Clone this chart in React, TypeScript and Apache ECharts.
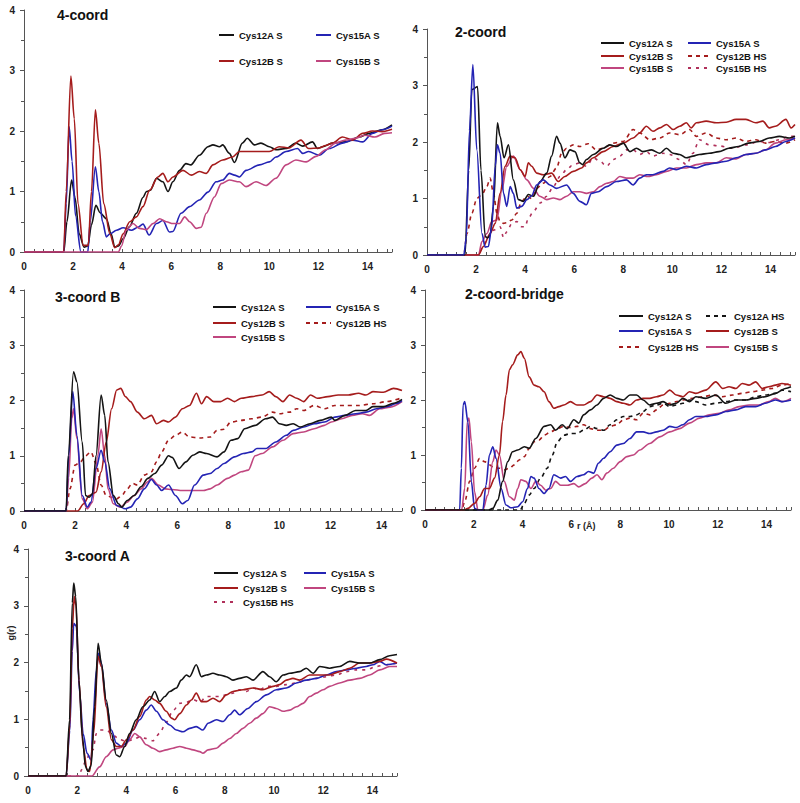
import React, { useEffect, useRef } from "react";
import * as echarts from "echarts";

// ---------- data: [r (Å), g(r)] ----------
// Panel 1: 4-coord
const p1_12A_S = [[0,0],[1.62,0],[1.75,0.5],[1.94,1.19],[2.08,0.9],[2.25,0.3],[2.45,0.08],[2.6,0.1],[2.75,0.45],[2.93,0.77],[3.1,0.65],[3.36,0.55],[3.55,0.3],[3.7,0.08],[3.85,0.1],[4.04,0.22],[4.3,0.42],[4.58,0.64],[4.85,0.9],[4.99,1.0],[5.15,1.02],[5.4,1.22],[5.66,1.16],[5.87,1.0],[6.07,1.16],[6.34,1.35],[6.6,1.46],[6.8,1.44],[7.15,1.6],[7.5,1.74],[7.7,1.77],[7.97,1.74],[8.1,1.77],[8.37,1.63],[8.58,1.48],[8.9,1.8],[9.1,1.88],[9.39,1.77],[9.66,1.8],[10.0,1.74],[10.27,1.69],[10.68,1.71],[11.08,1.8],[11.36,1.75],[11.76,1.82],[11.96,1.71],[12.17,1.74],[12.57,1.8],[13.1,1.82],[13.66,1.9],[14.07,1.96],[14.6,2.02],[15,2.1]];
const p1_15A_S = [[0,0],[1.62,0],[1.72,0.8],[1.84,2.07],[1.96,1.5],[2.1,0.6],[2.32,0],[2.6,0],[2.7,0.5],[2.91,1.41],[3.05,1.0],[3.2,0.5],[3.36,0.25],[3.5,0.3],[3.77,0.36],[4.04,0.4],[4.38,0.36],[4.65,0.41],[4.85,0.46],[5.1,0.28],[5.4,0.47],[5.66,0.52],[5.93,0.33],[6.07,0.34],[6.4,0.64],[6.75,0.75],[7.15,0.86],[7.5,0.99],[7.83,1.16],[8.1,1.19],[8.37,1.3],[8.58,1.27],[8.78,1.24],[9.05,1.35],[9.6,1.44],[10,1.49],[10.27,1.57],[10.68,1.66],[11.15,1.71],[11.36,1.63],[11.6,1.66],[12.03,1.6],[12.44,1.71],[12.98,1.8],[13.4,1.85],[13.8,1.82],[14.2,1.96],[14.6,2.02],[15,2.08]];
const p1_12B_S = [[0,0],[1.62,0],[1.72,1.0],[1.91,2.91],[2.05,2.2],[2.2,0.8],[2.41,0.11],[2.62,0.11],[2.75,1.0],[2.91,2.35],[3.05,1.8],[3.25,0.8],[3.5,0.3],[3.7,0.07],[3.85,0.12],[4.04,0.3],[4.31,0.5],[4.58,0.58],[4.85,0.75],[5.12,1.02],[5.46,1.24],[5.66,1.3],[5.87,1.16],[6.07,1.24],[6.48,1.35],[6.82,1.27],[7.15,1.33],[7.43,1.3],[7.7,1.44],[8.1,1.52],[8.5,1.57],[8.78,1.66],[9.46,1.66],[10,1.66],[10.4,1.74],[10.8,1.72],[11.29,1.85],[11.6,1.71],[12.03,1.72],[12.3,1.76],[12.57,1.8],[12.98,1.9],[13.4,1.85],[13.8,1.96],[14.2,2.0],[14.6,1.99],[15,2.03]];
const p1_15B_S = [[0,0],[3.85,0],[3.97,0.1],[4.17,0.36],[4.44,0.47],[4.71,0.39],[4.99,0.37],[5.26,0.47],[5.53,0.55],[5.8,0.5],[6.07,0.47],[6.34,0.47],[6.55,0.58],[6.75,0.5],[7.02,0.39],[7.22,0.41],[7.43,0.64],[7.76,0.91],[8.04,1.13],[8.37,1.19],[8.78,1.16],[9.05,1.08],[9.46,1.16],[9.86,1.1],[10.27,1.22],[10.68,1.44],[11.08,1.52],[11.5,1.49],[11.9,1.58],[12.3,1.69],[12.7,1.8],[13.1,1.85],[13.5,1.88],[13.9,1.93],[14.3,1.9],[14.7,1.96],[15,1.97]];

// Panel 2: 2-coord
const p2_12A_S = [[0,0],[1.55,0],[1.7,1.5],[1.83,2.93],[2.06,2.98],[2.2,1.5],[2.37,0.33],[2.47,0.3],[2.57,0.35],[2.71,0.86],[2.87,2.34],[2.98,2.1],[3.14,1.72],[3.32,1.95],[3.52,1.33],[3.73,0.98],[3.93,0.95],[4.13,1.07],[4.34,1.04],[4.61,1.3],[4.88,1.45],[5.08,1.75],[5.28,2.1],[5.42,1.98],[5.62,1.72],[5.83,1.86],[6.03,1.83],[6.23,1.63],[6.34,1.6],[6.5,1.69],[6.78,1.78],[7.18,1.89],[7.45,1.95],[7.72,1.92],[8.0,1.98],[8.27,1.83],[8.54,1.89],[8.8,1.83],[9.15,1.86],[9.49,1.8],[9.76,1.89],[10.03,1.8],[10.3,1.78],[10.57,1.72],[10.84,1.75],[11.1,1.78],[11.5,1.8],[11.9,1.83],[12.3,1.89],[12.7,1.92],[13.1,1.98],[13.55,2.01],[13.95,2.07],[14.36,2.1],[14.77,2.07],[15,2.1]];
const p2_15A_S = [[0,0],[1.5,0],[1.6,0.3],[1.73,2.2],[1.87,3.37],[2.03,1.86],[2.24,0.38],[2.37,0.14],[2.5,0.15],[2.64,0.5],[2.78,1.57],[2.87,1.95],[2.98,1.8],[3.12,1.09],[3.25,0.86],[3.39,1.21],[3.52,1.09],[3.66,0.83],[3.86,0.86],[4.07,0.98],[4.27,1.05],[4.47,1.24],[4.74,1.33],[5.01,1.24],[5.28,1.18],[5.69,1.24],[5.96,1.09],[6.23,0.95],[6.5,0.89],[6.7,1.09],[6.98,1.12],[7.32,1.21],[7.72,1.3],[8.13,1.33],[8.4,1.24],[8.67,1.36],[8.94,1.42],[9.2,1.42],[9.62,1.48],[9.89,1.54],[10.16,1.51],[10.57,1.57],[10.98,1.54],[11.38,1.6],[11.79,1.63],[12.2,1.66],[12.6,1.72],[13.0,1.78],[13.4,1.8],[13.8,1.86],[14.2,1.92],[14.63,2.01],[15,2.07]];
const p2_12B_S = [[0,0],[2.1,0],[2.3,0.15],[2.57,0.38],[2.78,0.56],[2.98,1.09],[3.18,1.57],[3.39,1.75],[3.59,1.72],[3.8,1.51],[4.0,1.39],[4.13,1.63],[4.27,1.57],[4.47,1.45],[4.74,1.42],[5.08,1.45],[5.35,1.3],[5.62,1.39],[5.96,1.48],[6.3,1.54],[6.5,1.63],[6.78,1.72],[7.18,1.83],[7.59,1.92],[8.0,1.98],[8.4,2.07],[8.67,2.16],[8.94,2.28],[9.21,2.19],[9.49,2.25],[9.76,2.31],[10.03,2.22],[10.3,2.28],[10.57,2.34],[10.77,2.25],[10.98,2.34],[11.38,2.37],[11.79,2.34],[12.2,2.35],[12.6,2.4],[13.0,2.4],[13.4,2.34],[13.69,2.37],[13.95,2.25],[14.2,2.28],[14.63,2.4],[14.84,2.25],[15,2.31]];
const p2_15B_S = [[0,0],[2.1,0],[2.24,0.24],[2.44,0.38],[2.64,0.59],[2.85,0.62],[3.05,1.15],[3.25,1.57],[3.52,1.75],[3.8,1.51],[4.07,1.33],[4.34,1.18],[4.6,1.04],[4.88,0.98],[5.15,1.01],[5.42,0.98],[5.69,1.04],[5.96,1.12],[6.23,1.12],[6.5,1.09],[6.78,1.12],[7.05,1.21],[7.32,1.27],[7.59,1.3],[7.86,1.39],[8.13,1.36],[8.4,1.36],[8.67,1.42],[9.0,1.39],[9.35,1.42],[9.76,1.48],[10.16,1.54],[10.57,1.54],[10.98,1.6],[11.38,1.63],[11.79,1.63],[12.2,1.72],[12.6,1.7],[13.0,1.78],[13.4,1.8],[13.8,1.86],[14.2,1.98],[14.63,2.04],[15,2.07]];
const p2_12B_HS = [[0,0],[1.5,0],[1.63,0.38],[1.83,0.74],[2.03,1.0],[2.24,1.07],[2.44,1.21],[2.57,1.36],[2.71,1.09],[2.85,0.74],[2.98,0.59],[3.12,0.56],[3.25,0.57],[3.46,0.62],[3.66,0.74],[3.86,0.95],[4.07,1.04],[4.27,1.0],[4.47,1.18],[4.74,1.27],[5.01,1.39],[5.28,1.54],[5.49,1.8],[5.69,1.89],[5.96,1.95],[6.23,1.92],[6.57,1.97],[6.91,1.86],[7.18,1.89],[7.59,1.98],[8.0,2.01],[8.4,2.22],[8.67,2.16],[9.08,2.04],[9.49,2.07],[9.89,2.16],[10.3,2.13],[10.7,2.22],[10.98,2.1],[11.38,2.16],[11.79,2.07],[12.2,2.04],[12.6,2.07],[13.0,2.01],[13.4,2.04],[13.8,1.98],[14.2,2.01],[14.63,1.98],[15,2.04]];
const p2_15B_HS = [[0,0],[2.1,0],[2.25,0.12],[2.44,0.27],[2.71,0.44],[2.98,0.5],[3.12,0.31],[3.25,0.41],[3.46,0.56],[3.66,0.59],[3.86,0.5],[4.0,0.5],[4.13,0.65],[4.34,0.77],[4.61,0.92],[4.88,1.04],[5.15,1.21],[5.42,1.39],[5.69,1.51],[5.96,1.6],[6.23,1.63],[6.5,1.57],[6.78,1.72],[7.05,1.66],[7.32,1.57],[7.59,1.69],[7.86,1.75],[8.13,1.86],[8.4,1.86],[8.67,1.78],[8.94,1.83],[9.2,1.75],[9.62,1.8],[9.89,1.78],[10.3,1.69],[10.57,1.6],[10.84,1.8],[11.1,2.04],[11.5,1.95],[11.9,1.93],[12.46,1.89],[13.0,1.95],[13.55,2.01],[13.95,1.99],[14.36,2.04],[14.77,2.1],[15,2.1]];

// Panel 3: 3-coord B
const p3_12A_S = [[0,0],[1.65,0],[1.73,1.0],[1.94,2.52],[2.07,2.34],[2.28,1.25],[2.41,0.28],[2.55,0.25],[2.68,0.31],[2.82,1.0],[3.02,2.1],[3.16,1.73],[3.29,0.89],[3.5,0.28],[3.7,0.13],[3.83,0.07],[4.04,0.19],[4.31,0.28],[4.58,0.44],[4.85,0.59],[5.12,0.68],[5.39,0.83],[5.66,1.0],[5.8,0.97],[6.07,0.77],[6.34,0.89],[6.61,1.01],[6.88,1.07],[7.15,1.04],[7.56,0.98],[7.83,1.07],[8.1,1.28],[8.37,1.31],[8.64,1.49],[9.05,1.55],[9.46,1.67],[9.73,1.7],[10.0,1.58],[10.27,1.55],[10.54,1.58],[10.81,1.52],[11.2,1.58],[11.6,1.64],[12.03,1.7],[12.17,1.64],[12.57,1.73],[12.98,1.82],[13.39,1.82],[13.66,1.89],[14.07,1.89],[14.47,1.95],[14.8,2.02]];
const p3_15A_S = [[0,0],[1.65,0],[1.75,1.0],[1.91,2.16],[2.07,1.37],[2.28,0.28],[2.48,0.07],[2.62,0.16],[2.82,0.77],[3.02,1.1],[3.16,0.89],[3.36,0.4],[3.63,0.1],[3.97,0.04],[4.17,0.07],[4.44,0.22],[4.71,0.4],[4.99,0.57],[5.19,0.47],[5.39,0.37],[5.66,0.47],[5.93,0.28],[6.2,0.13],[6.41,0.19],[6.68,0.47],[7.02,0.65],[7.29,0.68],[7.56,0.77],[7.83,0.86],[8.24,0.98],[8.58,1.04],[8.92,1.07],[9.12,1.13],[9.46,1.13],[9.86,1.25],[10.27,1.37],[10.54,1.46],[10.95,1.52],[11.36,1.58],[11.76,1.61],[12.17,1.7],[12.57,1.73],[12.98,1.76],[13.39,1.79],[13.8,1.85],[14.2,1.89],[14.6,1.95],[14.8,2.0]];
const p3_12B_S = [[0,0],[2.1,0],[2.34,0.13],[2.55,0.28],[2.82,0.34],[3.02,0.71],[3.22,1.25],[3.43,1.85],[3.63,2.19],[3.79,2.22],[3.97,2.07],[4.17,1.98],[4.44,1.79],[4.71,1.67],[4.99,1.73],[5.19,1.58],[5.46,1.64],[5.66,1.61],[5.93,1.7],[6.2,1.85],[6.48,1.91],[6.75,2.13],[6.95,1.94],[7.15,2.07],[7.43,1.98],[7.7,1.98],[7.97,2.04],[8.24,1.98],[8.5,2.04],[8.92,2.07],[9.32,2.1],[9.6,2.16],[9.86,2.07],[10.14,1.98],[10.4,2.1],[10.68,2.04],[10.95,1.98],[11.22,2.1],[11.49,2.04],[11.9,2.07],[12.3,2.1],[12.7,2.1],[13.1,2.13],[13.39,2.1],[13.66,2.16],[14.07,2.15],[14.47,2.22],[14.8,2.18]];
const p3_12B_HS = [[0,0],[1.65,0],[1.8,0.4],[2.0,0.83],[2.21,0.89],[2.41,1.0],[2.62,1.07],[2.82,0.86],[3.02,0.47],[3.22,0.28],[3.43,0.25],[3.63,0.22],[3.83,0.28],[4.04,0.4],[4.24,0.5],[4.44,0.47],[4.71,0.65],[4.99,0.71],[5.19,0.89],[5.39,1.07],[5.66,1.28],[5.93,1.37],[6.2,1.43],[6.48,1.34],[6.88,1.32],[7.29,1.34],[7.56,1.46],[7.83,1.48],[8.1,1.61],[8.5,1.64],[8.92,1.67],[9.32,1.7],[9.73,1.79],[10.0,1.76],[10.4,1.79],[10.68,1.85],[10.95,1.82],[11.36,1.91],[11.76,1.85],[12.17,1.91],[12.57,1.91],[13.1,1.91],[13.66,1.94],[14.2,1.98],[14.8,2.05]];
const p3_15B_S = [[0,0],[1.65,0],[1.75,0.6],[1.87,1.67],[1.94,1.85],[2.07,1.31],[2.28,0.22],[2.48,0.04],[2.68,0.16],[2.89,1.0],[3.02,1.49],[3.16,1.0],[3.29,0.4],[3.5,0.13],[3.77,0.07],[4.04,0.16],[4.31,0.28],[4.58,0.4],[4.85,0.53],[4.99,0.59],[5.26,0.47],[5.53,0.4],[5.8,0.39],[6.2,0.37],[6.61,0.37],[7.02,0.37],[7.29,0.4],[7.56,0.47],[7.97,0.59],[8.24,0.65],[8.5,0.71],[8.78,0.74],[9.05,1.0],[9.32,1.04],[9.73,1.16],[10.14,1.28],[10.54,1.4],[10.95,1.43],[11.36,1.49],[11.76,1.55],[12.03,1.61],[12.44,1.67],[12.85,1.73],[13.25,1.76],[13.52,1.73],[13.93,1.85],[14.34,1.88],[14.8,1.98]];

// Panel 4: 2-coord-bridge
const p4_12A_S = [[0,0],[2.6,0],[2.78,0.03],[2.98,0.18],[3.18,0.52],[3.39,0.88],[3.59,1.06],[3.8,1.09],[4.07,1.15],[4.27,1.12],[4.54,1.3],[4.88,1.52],[5.15,1.55],[5.35,1.45],[5.62,1.55],[5.83,1.48],[6.1,1.64],[6.3,1.58],[6.5,1.73],[6.78,1.82],[7.05,1.91],[7.32,2.03],[7.59,2.09],[7.86,2.03],[8.13,2.0],[8.4,2.09],[8.67,2.09],[8.94,2.0],[9.21,1.91],[9.49,1.94],[9.76,1.97],[10.03,1.91],[10.3,1.94],[10.57,2.03],[10.84,1.97],[11.1,2.06],[11.5,2.03],[11.92,2.09],[12.33,1.94],[12.74,2.0],[13.14,2.0],[13.55,2.03],[13.95,2.06],[14.36,2.12],[14.77,2.21],[15,2.24]];
const p4_12A_HS = [[0,0],[3.9,0],[4.07,0.12],[4.27,0.27],[4.47,0.39],[4.74,0.58],[5.01,0.76],[5.22,1.0],[5.42,1.24],[5.69,1.36],[5.96,1.39],[6.23,1.39],[6.5,1.45],[6.78,1.52],[7.05,1.48],[7.32,1.45],[7.59,1.55],[7.86,1.64],[8.13,1.7],[8.4,1.7],[8.67,1.73],[8.94,1.79],[9.21,1.88],[9.49,1.91],[9.76,1.94],[10.03,1.88],[10.3,1.91],[10.57,1.94],[10.84,2.0],[11.1,1.97],[11.5,1.91],[11.92,1.94],[12.33,1.97],[12.74,2.0],[13.14,2.0],[13.55,2.06],[13.95,2.09],[14.36,2.12],[14.63,2.18],[15,2.15]];
const p4_15A_S = [[0,0],[1.42,0],[1.49,0.76],[1.56,1.91],[1.63,1.97],[1.76,1.6],[1.9,0.52],[2.03,0.03],[2.17,0],[2.37,0],[2.5,0.45],[2.64,1.0],[2.78,1.15],[2.91,0.94],[3.12,0.39],[3.32,0.09],[3.52,0.04],[3.8,0.06],[4.0,0.15],[4.2,0.39],[4.34,0.61],[4.47,0.58],[4.67,0.39],[4.88,0.3],[5.08,0.39],[5.28,0.64],[5.56,0.58],[5.76,0.61],[5.96,0.52],[6.23,0.61],[6.5,0.64],[6.7,0.7],[6.91,0.67],[7.11,0.85],[7.32,0.94],[7.59,1.06],[7.86,1.18],[8.13,1.21],[8.4,1.3],[8.67,1.42],[8.94,1.42],[9.21,1.39],[9.49,1.42],[9.76,1.45],[10.03,1.52],[10.3,1.5],[10.57,1.55],[10.84,1.64],[11.1,1.7],[11.5,1.7],[11.92,1.73],[12.33,1.79],[12.74,1.82],[13.14,1.88],[13.55,1.88],[13.95,1.94],[14.36,2.0],[14.63,1.97],[15,2.0]];
const p4_12B_S = [[0,0],[1.6,0],[1.76,0.03],[2.03,0.12],[2.24,0.24],[2.44,0.39],[2.64,0.39],[2.85,0.58],[3.05,1.0],[3.18,1.61],[3.32,2.09],[3.46,2.55],[3.59,2.64],[3.8,2.82],[3.93,2.88],[4.07,2.76],[4.27,2.42],[4.47,2.27],[4.67,2.24],[4.88,2.15],[5.08,1.97],[5.28,1.85],[5.49,1.88],[5.69,1.91],[5.96,1.97],[6.23,1.91],[6.5,1.91],[6.78,1.97],[7.05,2.09],[7.32,2.06],[7.59,2.03],[7.86,1.97],[8.13,1.94],[8.4,1.91],[8.67,2.0],[8.94,2.03],[9.21,2.03],[9.49,2.06],[9.76,2.09],[10.03,2.18],[10.3,2.09],[10.57,2.06],[10.84,2.15],[11.1,2.12],[11.5,2.18],[11.92,2.33],[12.2,2.21],[12.46,2.24],[12.74,2.21],[13.0,2.3],[13.28,2.27],[13.55,2.33],[13.82,2.21],[14.09,2.24],[14.36,2.27],[14.63,2.3],[15,2.27]];
const p4_12B_HS = [[0,0],[1.5,0],[1.63,0.15],[1.83,0.52],[2.03,0.76],[2.24,0.94],[2.44,0.88],[2.64,0.82],[2.85,0.76],[3.05,0.76],[3.25,0.73],[3.46,0.76],[3.66,0.82],[3.86,0.91],[4.07,0.97],[4.27,1.12],[4.47,1.24],[4.67,1.27],[4.88,1.36],[5.15,1.42],[5.42,1.48],[5.69,1.52],[5.96,1.5],[6.23,1.52],[6.5,1.55],[6.78,1.48],[7.05,1.45],[7.32,1.45],[7.59,1.52],[7.86,1.55],[8.13,1.64],[8.4,1.67],[8.67,1.64],[8.94,1.76],[9.21,1.73],[9.49,1.82],[9.76,1.91],[10.03,1.94],[10.3,1.97],[10.57,2.0],[10.98,2.03],[11.38,2.06],[11.79,2.09],[12.2,2.06],[12.6,2.09],[13.0,2.12],[13.4,2.15],[13.82,2.18],[14.23,2.21],[14.63,2.27],[15,2.3]];
const p4_15B_S = [[0,0],[1.5,0],[1.63,0.4],[1.73,1.6],[1.8,1.67],[1.9,1.24],[2.03,0.33],[2.17,0],[2.37,0],[2.57,0.27],[2.78,0.88],[2.91,1.09],[3.05,1.0],[3.25,0.52],[3.46,0.24],[3.66,0.18],[3.8,0.39],[3.93,0.55],[4.13,0.52],[4.34,0.39],[4.54,0.52],[4.74,0.45],[4.95,0.36],[5.15,0.39],[5.35,0.52],[5.56,0.45],[5.83,0.45],[6.1,0.48],[6.3,0.42],[6.57,0.48],[6.84,0.58],[7.05,0.64],[7.25,0.55],[7.45,0.67],[7.72,0.76],[8.0,0.88],[8.27,0.97],[8.54,1.0],[8.8,1.09],[9.21,1.21],[9.62,1.33],[10.03,1.42],[10.43,1.48],[10.84,1.58],[11.25,1.67],[11.65,1.73],[12.06,1.76],[12.47,1.82],[12.87,1.88],[13.28,1.91],[13.69,1.91],[14.09,1.97],[14.36,2.03],[14.63,1.97],[15,2.03]];

// Panel 5: 3-coord A
const p5_12A_S = [[0,0],[1.55,0],[1.69,0.99],[1.8,3.05],[1.86,3.4],[1.94,3.16],[2.07,1.69],[2.21,0.69],[2.34,0.16],[2.44,0.08],[2.57,0.19],[2.71,1.22],[2.85,2.34],[2.98,1.99],[3.18,1.34],[3.39,0.75],[3.59,0.37],[3.73,0.34],[3.93,0.52],[4.13,0.75],[4.4,0.99],[4.67,1.22],[4.95,1.34],[5.15,1.49],[5.35,1.31],[5.56,1.4],[5.76,1.49],[6.03,1.55],[6.23,1.69],[6.44,1.78],[6.57,1.75],[6.84,1.96],[7.05,1.75],[7.25,1.78],[7.52,1.81],[7.79,1.78],[8.06,1.75],[8.33,1.69],[8.6,1.72],[8.88,1.75],[9.15,1.69],[9.55,1.84],[9.82,1.75],[10.09,1.66],[10.37,1.78],[10.64,1.81],[11.04,1.84],[11.31,1.9],[11.59,1.81],[11.86,1.93],[12.26,1.9],[12.67,1.93],[13.08,2.02],[13.48,1.99],[13.89,1.99],[14.3,2.05],[14.7,2.12],[15,2.14]];
const p5_15A_S = [[0,0],[1.55,0],[1.7,0.8],[1.8,2.2],[1.86,2.69],[1.96,2.64],[2.1,1.46],[2.24,0.75],[2.4,0.4],[2.57,0.28],[2.64,0.99],[2.78,1.87],[2.87,2.16],[2.98,1.99],[3.18,1.28],[3.39,0.81],[3.59,0.58],[3.79,0.52],[4.0,0.58],[4.27,0.81],[4.54,0.99],[4.81,1.16],[5.01,1.25],[5.22,1.14],[5.49,0.99],[5.76,0.9],[6.03,0.81],[6.3,0.78],[6.57,0.84],[6.84,0.87],[7.11,0.81],[7.32,0.93],[7.66,0.99],[7.93,0.96],[8.2,1.08],[8.4,1.16],[8.6,1.08],[8.94,1.19],[9.28,1.31],[9.69,1.43],[10.09,1.52],[10.5,1.55],[10.91,1.64],[11.31,1.69],[11.72,1.72],[12.13,1.78],[12.53,1.84],[12.94,1.87],[13.35,1.9],[13.75,1.93],[14.02,1.96],[14.3,2.02],[14.57,1.96],[15,1.99]];
const p5_12B_S = [[0,0],[1.55,0],[1.7,0.9],[1.8,2.6],[1.88,3.16],[1.95,3.0],[2.07,1.69],[2.24,0.52],[2.4,0.11],[2.51,0.08],[2.67,0.75],[2.85,2.11],[2.98,1.93],[3.18,1.22],[3.39,0.64],[3.59,0.52],[3.79,0.52],[4.0,0.64],[4.27,0.81],[4.54,1.05],[4.81,1.34],[4.95,1.4],[5.15,1.34],[5.35,1.28],[5.62,1.14],[5.83,1.02],[5.96,0.99],[6.17,1.1],[6.44,1.25],[6.64,1.34],[6.84,1.46],[7.05,1.31],[7.25,1.31],[7.52,1.37],[7.79,1.31],[8.06,1.43],[8.33,1.49],[8.74,1.52],[9.15,1.55],[9.55,1.52],[9.96,1.58],[10.23,1.61],[10.5,1.69],[10.77,1.72],[11.04,1.69],[11.45,1.78],[11.86,1.78],[12.26,1.78],[12.67,1.84],[13.08,1.9],[13.48,1.99],[13.89,1.99],[14.3,2.02],[14.57,2.06],[15,1.99]];
const p5_15B_S = [[0,0],[2.6,0],[2.91,0.16],[3.18,0.34],[3.46,0.46],[3.66,0.49],[3.93,0.52],[4.13,0.64],[4.34,0.75],[4.54,0.69],[4.81,0.55],[5.08,0.49],[5.35,0.43],[5.62,0.46],[5.89,0.49],[6.17,0.52],[6.44,0.49],[6.71,0.46],[6.98,0.43],[7.11,0.4],[7.32,0.46],[7.66,0.49],[7.93,0.58],[8.2,0.66],[8.47,0.75],[8.74,0.84],[9.01,0.93],[9.28,1.02],[9.55,1.1],[9.82,1.22],[10.09,1.19],[10.37,1.14],[10.64,1.16],[10.91,1.22],[11.18,1.28],[11.45,1.4],[11.72,1.46],[11.99,1.52],[12.26,1.58],[12.67,1.64],[13.08,1.69],[13.48,1.72],[13.89,1.78],[14.3,1.87],[14.7,1.93],[15,1.93]];
const p5_15B_HS = [[0,0],[2.1,0],[2.17,0.11],[2.37,0.28],[2.51,0.4],[2.64,0.46],[2.78,0.75],[2.91,0.81],[3.18,0.81],[3.46,0.72],[3.73,0.64],[4.0,0.61],[4.27,0.64],[4.54,0.69],[4.81,0.66],[5.08,0.62],[5.35,0.75],[5.62,0.95],[5.89,1.15],[6.17,1.28],[6.44,1.3],[6.71,1.35],[6.98,1.3],[7.25,1.4],[7.52,1.4],[7.79,1.4],[8.06,1.43],[8.33,1.46],[8.6,1.52],[8.88,1.49],[9.15,1.55],[9.42,1.52],[9.69,1.58],[10.09,1.58],[10.5,1.61],[10.91,1.64],[11.31,1.69],[11.72,1.72],[12.13,1.75],[12.53,1.78],[12.94,1.84],[13.35,1.87],[13.75,1.87],[14.16,1.93],[14.57,1.96],[15,1.99]];

const xTicks = [0, 2, 4, 6, 8, 10, 12, 14];
const yTicks = [0, 1, 2, 3, 4];
const panelTitles = ["4-coord", "2-coord", "3-coord B", "2-coord-bridge", "3-coord A"];

// ---------- styles ----------
const FONT = "'Liberation Sans', Arial, sans-serif";
const COLORS: Record<string, string> = {
  "Cys12A S": "#141414",
  "Cys12A HS": "#141414",
  "Cys15A S": "#2424b4",
  "Cys12B S": "#a51c1c",
  "Cys12B HS": "#a51c1c",
  "Cys15B S": "#c0467f",
  "Cys15B HS": "#b0305a",
};
const DASH: Record<string, any> = {
  "Cys12A HS": [4, 4],
  "Cys12B HS": [4, 4],
  "Cys15B HS": [3, 5],
};

// grid layout for the five panels
const grids = [
  { left: 24, top: 10, width: 368, height: 242, xmax: 15 },
  { left: 427, top: 29, width: 368, height: 226, xmax: 15 },
  { left: 24, top: 290, width: 378, height: 221, xmax: 14.8 },
  { left: 425, top: 290, width: 366, height: 220, xmax: 15 },
  { left: 28, top: 549, width: 369, height: 227, xmax: 15 },
];

const panelSeries: [string, number[][]][][] = [
  [["Cys12A S", p1_12A_S], ["Cys15A S", p1_15A_S], ["Cys12B S", p1_12B_S], ["Cys15B S", p1_15B_S]],
  [["Cys15B HS", p2_15B_HS], ["Cys12B HS", p2_12B_HS], ["Cys15B S", p2_15B_S], ["Cys12B S", p2_12B_S], ["Cys12A S", p2_12A_S], ["Cys15A S", p2_15A_S]],
  [["Cys12B HS", p3_12B_HS], ["Cys15B S", p3_15B_S], ["Cys12B S", p3_12B_S], ["Cys15A S", p3_15A_S], ["Cys12A S", p3_12A_S]],
  [["Cys12B HS", p4_12B_HS], ["Cys12A HS", p4_12A_HS], ["Cys15B S", p4_15B_S], ["Cys15A S", p4_15A_S], ["Cys12B S", p4_12B_S], ["Cys12A S", p4_12A_S]],
  [["Cys15B HS", p5_15B_HS], ["Cys15B S", p5_15B_S], ["Cys15A S", p5_15A_S], ["Cys12B S", p5_12B_S], ["Cys12A S", p5_12A_S]],
];

// legend entries: [name, left, top, iconWidth]
const legendItems: [string, number, number, number][] = [
  ["Cys12A S", 218, 30, 15], ["Cys15A S", 315, 30, 15], ["Cys12B S", 218, 56, 15], ["Cys15B S", 315, 56, 15],
  ["Cys12A S", 600, 38, 23], ["Cys15A S", 687, 38, 23], ["Cys12B S", 600, 51, 23], ["Cys12B HS", 687, 51, 23], ["Cys15B S", 600, 63, 23], ["Cys15B HS", 687, 63, 23],
  ["Cys12A S", 212, 302, 23], ["Cys15A S", 305, 302, 25], ["Cys12B S", 212, 318, 23], ["Cys12B HS", 305, 318, 25], ["Cys15B S", 212, 332, 23],
  ["Cys12A S", 618, 311, 24], ["Cys12A HS", 705, 311, 23], ["Cys15A S", 618, 326, 24], ["Cys12B S", 705, 326, 23], ["Cys12B HS", 618, 342, 24], ["Cys15B S", 705, 342, 23],
  ["Cys12A S", 213, 568, 24], ["Cys15A S", 303, 568, 22], ["Cys12B S", 213, 583, 24], ["Cys15B S", 303, 583, 22], ["Cys15B HS", 213, 597, 24],
];

const titlePos = [
  { left: 57, top: 8 },
  { left: 455, top: 25 },
  { left: 55, top: 290 },
  { left: 465, top: 287 },
  { left: 65, top: 549 },
];

function buildOption() {
  const labelStyle = { color: "#222", fontFamily: FONT, fontWeight: "bold" as const, fontSize: 10 };
  const axisLineStyle = { color: "#555", width: 1 };

  const xAxis = grids.map((g, i) => ({
    type: "value",
    gridIndex: i,
    min: 0,
    max: g.xmax,
    interval: 2,
    axisLine: { show: true, onZero: false, lineStyle: axisLineStyle },
    axisTick: { show: true, inside: true, length: 3, lineStyle: axisLineStyle },
    minorTick: { show: true, splitNumber: 5, length: 3, lineStyle: axisLineStyle },
    splitLine: { show: false },
    axisLabel: {
      ...labelStyle,
      margin: 9,
      showMaxLabel: false,
      formatter: (v: number) => (xTicks.includes(v) ? String(v) : ""),
    },
  }));

  const yAxis = grids.map((g, i) => ({
    type: "value",
    gridIndex: i,
    min: 0,
    max: 4,
    interval: 1,
    axisLine: { show: true, lineStyle: axisLineStyle },
    axisTick: { show: true, length: 4, lineStyle: axisLineStyle },
    minorTick: { show: true, splitNumber: 2, length: 3, lineStyle: axisLineStyle },
    splitLine: { show: false },
    axisLabel: {
      ...labelStyle,
      margin: 9,
      formatter: (v: number) => (yTicks.includes(v) ? String(v) : ""),
    },
  }));

  const series: any[] = [];
  panelSeries.forEach((list, gi) => {
    list.forEach(([name, data]) => {
      series.push({
        type: "line",
        name,
        xAxisIndex: gi,
        yAxisIndex: gi,
        data,
        symbol: "none",
        smooth: 0.3,
        smoothMonotone: "x",
        lineStyle: { color: COLORS[name], width: 1.6, type: DASH[name] || "solid" },
        itemStyle: { color: COLORS[name] },
        z: 2,
      });
    });
  });

  const legend = legendItems.map(([name, left, top, w]) => ({
    data: [name],
    left,
    top,
    padding: 0,
    itemWidth: w,
    itemHeight: 10,
    itemGap: 0,
    selectedMode: false,
    itemStyle: { opacity: 0, borderWidth: 0 },
    textStyle: { color: "#111", fontFamily: FONT, fontWeight: "bold", fontSize: 9.5 },
  }));

  const title = panelTitles.map((t, i) => ({
    text: t,
    left: titlePos[i].left,
    top: titlePos[i].top,
    padding: 0,
    textStyle: { color: "#111", fontFamily: FONT, fontWeight: "bold", fontSize: 14 },
  }));

  return {
    animation: false,
    backgroundColor: "#ffffff",
    title,
    legend,
    grid: grids.map((g) => ({ left: g.left, top: g.top, width: g.width, height: g.height, containLabel: false })),
    xAxis,
    yAxis,
    series,
    graphic: [
      {
        type: "text",
        left: 577,
        top: 521,
        style: { text: "r (Å)", fill: "#222", font: `bold 9px ${FONT}` },
      },
      {
        type: "text",
        x: 11,
        y: 633,
        rotation: Math.PI / 2,
        style: { text: "g(r)", fill: "#222", font: `bold 9px ${FONT}`, align: "center", verticalAlign: "middle" },
      },
    ],
  };
}

export default function App() {
  const ref = useRef<HTMLDivElement>(null);
  useEffect(() => {
    document.body.style.margin = "0";
    if (!ref.current) return;
    const chart = echarts.init(ref.current, undefined, { renderer: "svg" });
    chart.setOption(buildOption() as any);
    return () => chart.dispose();
  }, []);
  return <div ref={ref} style={{ width: 800, height: 803 }} />;
}
